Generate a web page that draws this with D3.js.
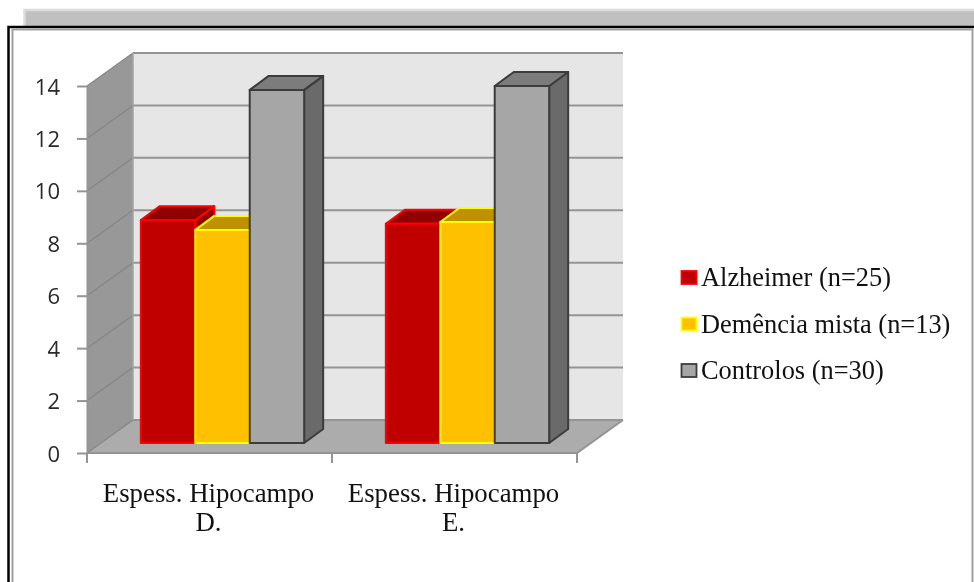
<!DOCTYPE html>
<html>
<head>
<meta charset="utf-8">
<script src="https://cdn.jsdelivr.net/npm/d3@7"></script>
<style>
html, body { margin: 0; padding: 0; background: #fff; }
svg { display: block; }
</style>
</head>
<body>
<div id="chart"></div>
<script>
var categories = ["Espess. Hipocampo D.", "Espess. Hipocampo E."];
var categoryLines = [["Espess. Hipocampo", "D."], ["Espess. Hipocampo", "E."]];
var seriesNames = ["Alzheimer (n=25)", "Demência mista (n=13)", "Controlos (n=30)"];
var alzheimer = [8.5, 8.36];
var demencia = [8.13, 8.43];
var controlos = [13.47, 13.62];
var yTicks = [0, 2, 4, 6, 8, 10, 12, 14];

var seriesValues = [alzheimer, demencia, controlos];
var front = ["#c00000", "#ffc000", "#a6a6a6"];
var topFace = ["#900000", "#bf9000", "#7c7c7c"];
var sideFace = ["#900000", "#bf9000", "#6a6a6a"];
var edge = ["#ff0000", "#ffff00", "#3c3c3c"];

var svg = d3.select("#chart").append("svg")
  .attr("width", 974)
  .attr("height", 582)
  .style("filter", "blur(0.6px)");

// paper behind the chart
svg.append("rect").attr("x", 24.5).attr("y", 10).attr("width", 960).attr("height", 20)
  .attr("fill", "#c0c0c0").attr("stroke", "#dcdcdc").attr("stroke-width", 2.5);

// frame
svg.append("rect").attr("x", 8.5).attr("y", 27).attr("width", 980).attr("height", 570)
  .attr("fill", "#fff").attr("stroke", "#000").attr("stroke-width", 2.5);
svg.append("rect").attr("x", 12.5).attr("y", 29.5).attr("width", 960).attr("height", 570)
  .attr("fill", "#fff").attr("stroke", "#a0a0a0").attr("stroke-width", 2);

var x = d3.scaleBand().domain(categories).range([87, 577]);
var y = d3.scaleLinear().domain([0, 14]).range([453, 86]);

// depth of the box and of the bars
var wallDx = 46, wallDy = -33;
var barOffDx = 13, barOffDy = -10;
var barDx = 19, barDy = -14;

var line = d3.line();
var grid = "#949494";

// side wall
svg.append("path")
  .attr("d", line([[x.range()[0], y(0)], [x.range()[0], y(14)],
    [x.range()[0] + wallDx, y(14) + wallDy], [x.range()[0] + wallDx, y(0) + wallDy]]) + "Z")
  .attr("fill", "#989898");

// back wall
svg.append("rect")
  .attr("x", x.range()[0] + wallDx).attr("y", y(14) + wallDy)
  .attr("width", x.range()[1] - x.range()[0]).attr("height", y(0) - y(14))
  .attr("fill", "#e6e6e6");

// floor
svg.append("path")
  .attr("d", line([[x.range()[0], y(0)], [x.range()[1], y(0)],
    [x.range()[1] + wallDx, y(0) + wallDy], [x.range()[0] + wallDx, y(0) + wallDy]]) + "Z")
  .attr("fill", "#acacac");

// gridlines on both walls
yTicks.forEach(function(t) {
  svg.append("path")
    .attr("d", line([[x.range()[0], y(t)], [x.range()[0] + wallDx, y(t) + wallDy]]))
    .attr("fill", "none").attr("stroke", "#858585").attr("stroke-width", 1.2);
  svg.append("path")
    .attr("d", line([[x.range()[0] + wallDx, y(t) + wallDy], [x.range()[1] + wallDx, y(t) + wallDy]]))
    .attr("fill", "none").attr("stroke", grid).attr("stroke-width", 2);
});

// wall corner and floor edges
svg.append("path")
  .attr("d", line([[x.range()[0] + wallDx, y(14) + wallDy], [x.range()[0] + wallDx, y(0) + wallDy]]))
  .attr("fill", "none").attr("stroke", "#a4a4a4").attr("stroke-width", 1.5);
svg.append("path")
  .attr("d", line([[x.range()[0], y(0)], [x.range()[1], y(0)], [x.range()[1] + wallDx, y(0) + wallDy]]))
  .attr("fill", "none").attr("stroke", grid).attr("stroke-width", 2);

// axes
var yAxis = svg.append("g")
  .attr("transform", "translate(" + x.range()[0] + ",0)")
  .call(d3.axisLeft(y).tickValues(yTicks).tickSize(10).tickSizeOuter(0).tickPadding(17));
yAxis.select(".domain").attr("stroke", grid).attr("stroke-width", 2);
yAxis.selectAll(".tick line").attr("stroke", grid).attr("stroke-width", 2);
yAxis.selectAll(".tick text")
  .attr("fill", "#2a2a2a")
  .attr("y", 1)
  .style("font-family", "'Open Sans', 'Noto Sans', sans-serif")
  .style("font-size", "22px");

var xAxis = svg.append("g")
  .attr("transform", "translate(0," + y(0) + ")");
x.domain().concat(["end"]).forEach(function(c, i) {
  var px = x.range()[0] + i * x.bandwidth();
  xAxis.append("line").attr("x1", px).attr("x2", px).attr("y1", 0).attr("y2", 10)
    .attr("stroke", grid).attr("stroke-width", 2);
});

categoryLines.forEach(function(lines, i) {
  var t = svg.append("text")
    .attr("text-anchor", "middle")
    .attr("fill", "#111")
    .style("font-family", "'Liberation Serif', serif")
    .style("font-size", "26.8px");
  lines.forEach(function(s, k) {
    t.append("tspan")
      .attr("x", x(categories[i]) + x.bandwidth() / 2 - 1)
      .attr("y", 502 + k * 29)
      .text(s);
  });
});

// bars, three per group, series by series so later ones cover earlier sides
var inner = d3.scaleBand().domain([0, 1, 2]).range([0, x.bandwidth()]).paddingOuter(0.75).paddingInner(0);
var barsBase = y(0);
var barScale = d3.scaleLinear().domain([0, 14]).range([0, y(0) - y(14)]);

categories.forEach(function(c, ci) {
  seriesValues.forEach(function(vals, si) {
    var x0 = x(c) + inner(si) + barOffDx;
    var w = inner.bandwidth();
    var y1 = barsBase + barOffDy;
    var y0 = y1 - barScale(vals[ci]);
    var g = svg.append("g").attr("stroke", edge[si]).attr("stroke-width", 2).attr("stroke-linejoin", "round");
    g.append("path")
      .attr("d", line([[x0 + w, y0], [x0 + w + barDx, y0 + barDy], [x0 + w + barDx, y1 + barDy], [x0 + w, y1]]) + "Z")
      .attr("fill", sideFace[si]);
    g.append("path")
      .attr("d", line([[x0, y0], [x0 + barDx, y0 + barDy], [x0 + w + barDx, y0 + barDy], [x0 + w, y0]]) + "Z")
      .attr("fill", topFace[si]);
    g.append("rect")
      .attr("x", x0).attr("y", y0).attr("width", w).attr("height", y1 - y0)
      .attr("fill", front[si]);
  });
});

// legend
var legendY = d3.scalePoint().domain(seriesNames).range([277.5, 370.5]);
var legend = svg.append("g").selectAll("g").data(seriesNames).enter().append("g")
  .attr("transform", function(d) { return "translate(681," + legendY(d) + ")"; });
legend.append("rect")
  .attr("x", 0.5).attr("y", -6.5).attr("width", 15).attr("height", 13)
  .attr("fill", function(d, i) { return front[i]; })
  .attr("stroke", function(d, i) { return edge[i]; })
  .attr("stroke-width", 1.8);
legend.append("text")
  .attr("x", 20).attr("y", 8.5)
  .attr("fill", "#111")
  .style("font-family", "'Liberation Serif', serif")
  .style("font-size", "26.4px")
  .text(function(d) { return d; });
</script>
</body>
</html>
